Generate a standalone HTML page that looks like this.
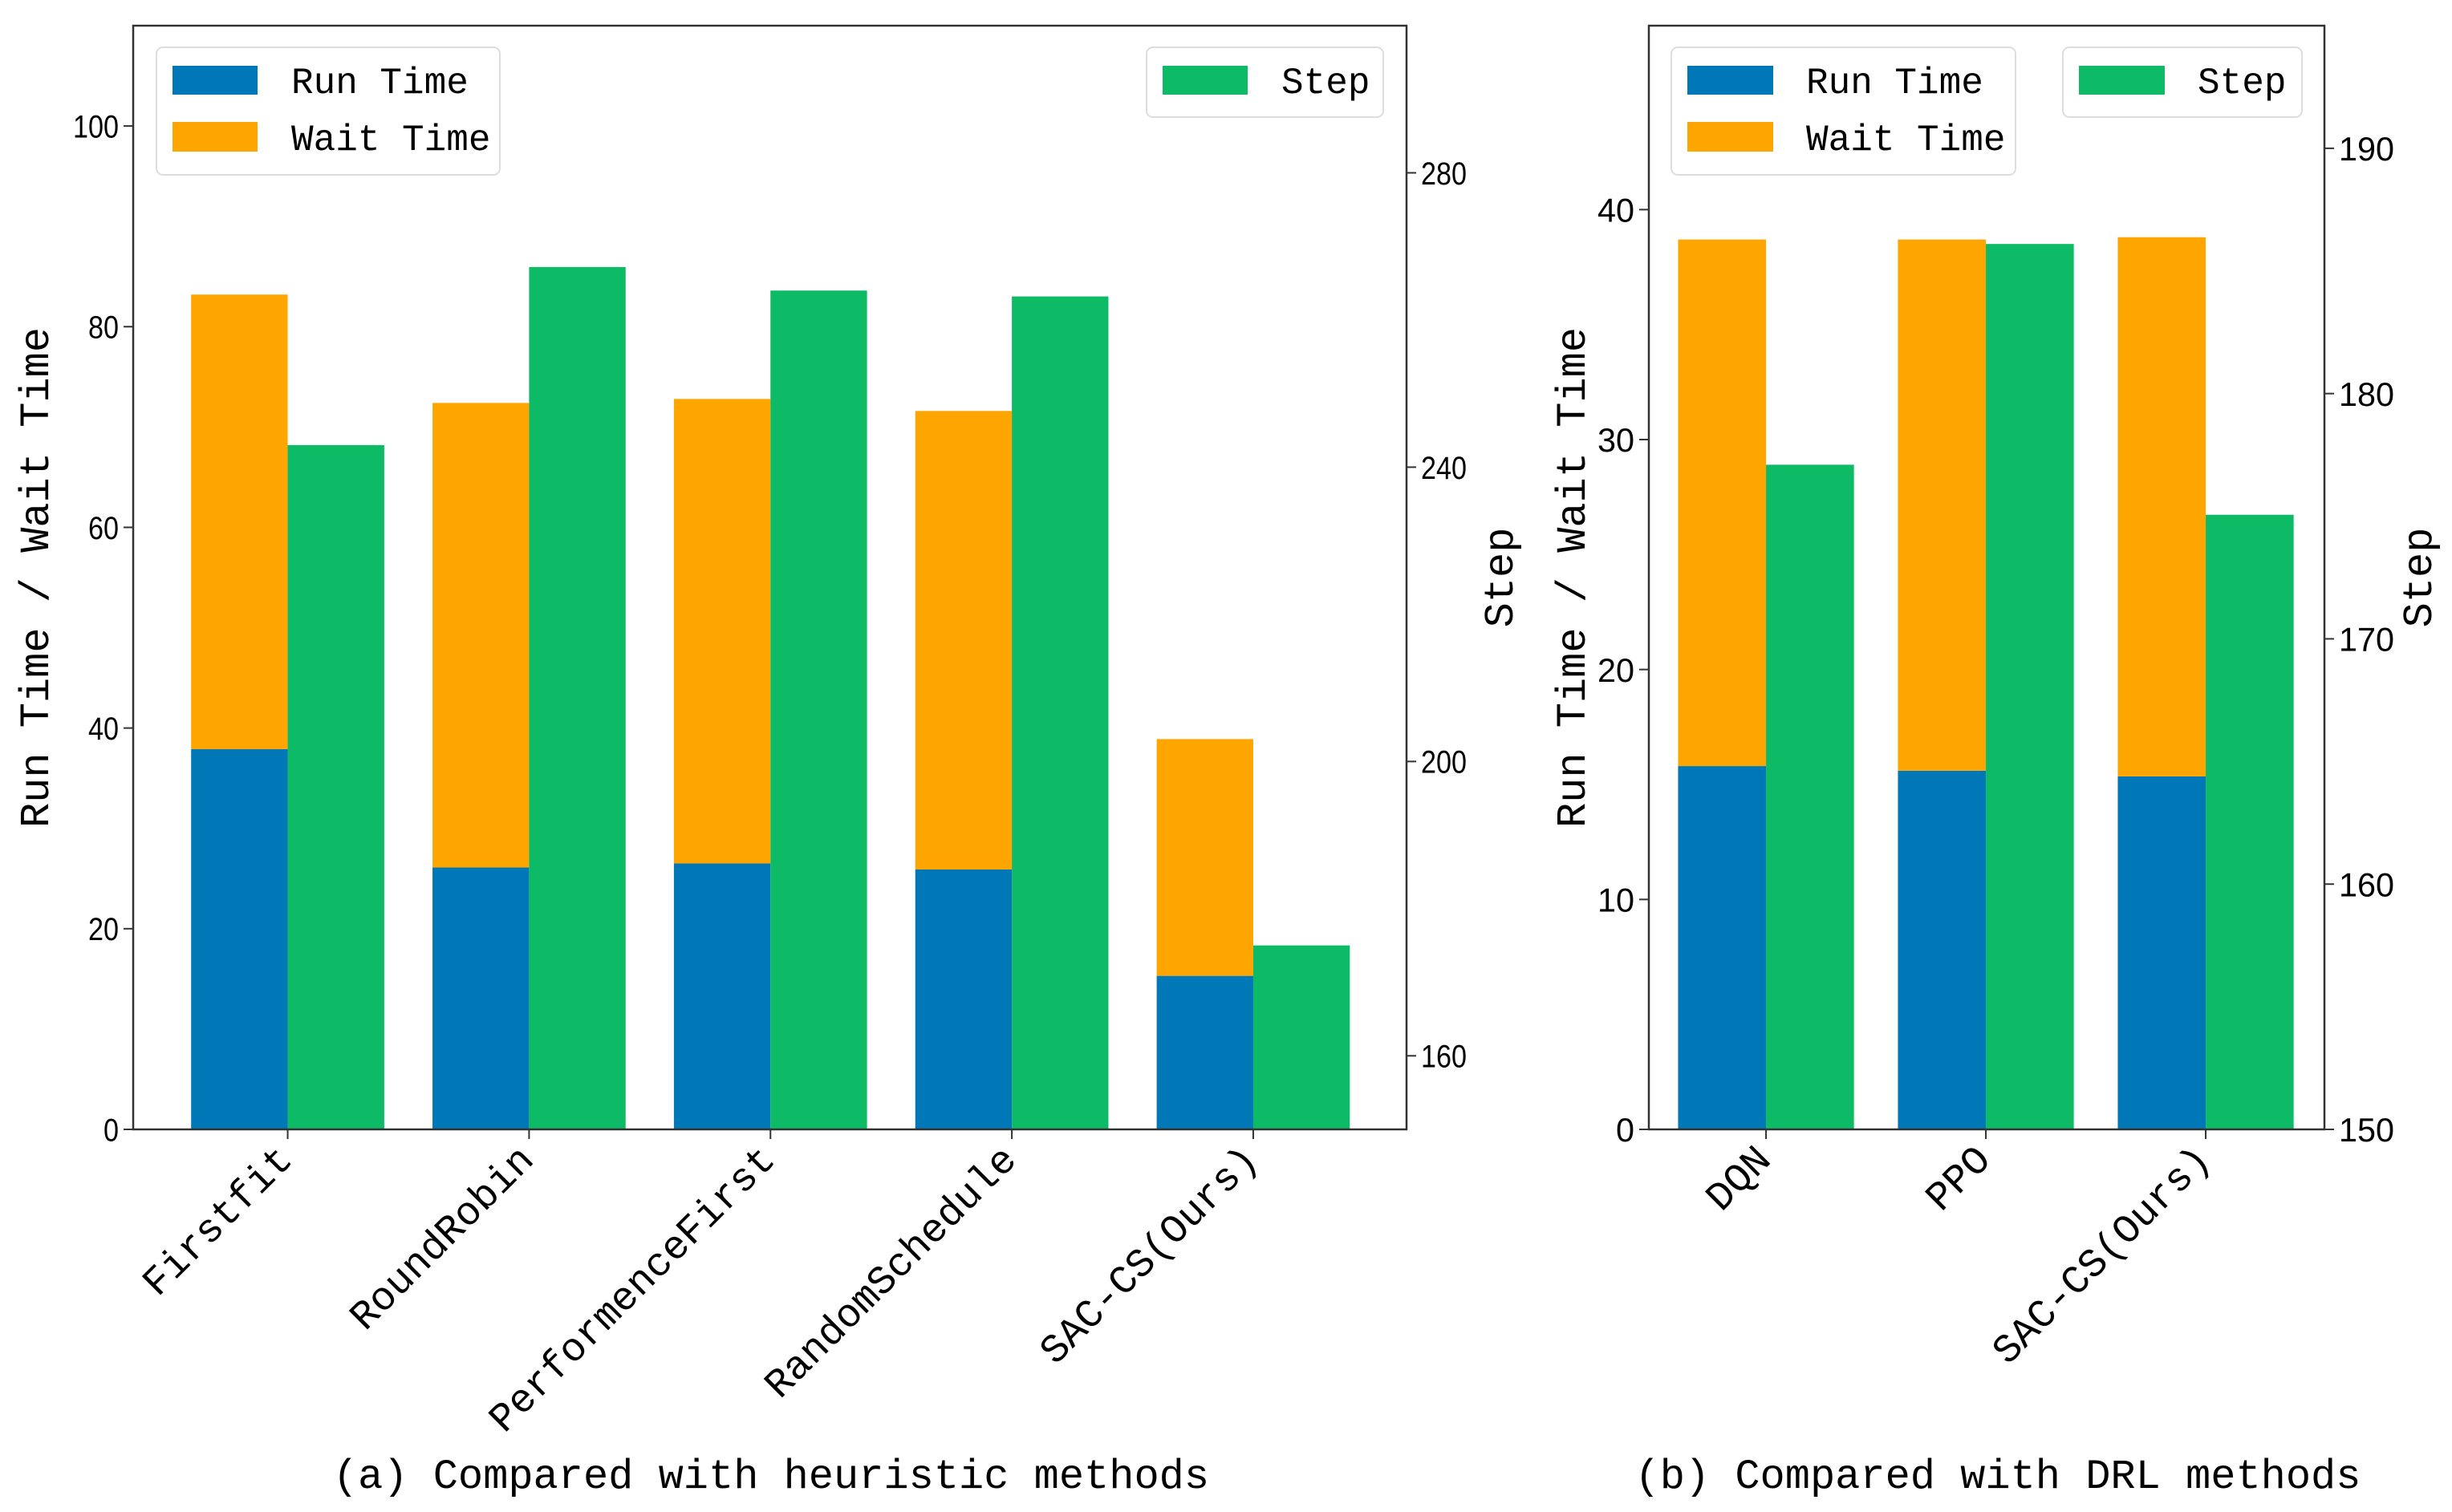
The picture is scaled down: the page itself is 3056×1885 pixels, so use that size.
<!DOCTYPE html>
<html><head><meta charset="utf-8"><style>
html,body{margin:0;padding:0;background:#fff}
svg{display:block}
.t{font-family:"Liberation Sans","Noto Sans CJK SC",sans-serif}
.m{font-family:"Liberation Mono","Noto Sans CJK SC",monospace}
</style></head><body>
<svg id="chart" width="3056" height="1885" viewBox="0 0 3056 1885" xmlns="http://www.w3.org/2000/svg"></svg>
<script>
const catsA = ["Firstfit","RoundRobin","PerformenceFirst","RandomSchedule","SAC-CS(Ours)"];
const runA = [37.9, 26.1, 26.5, 25.9, 15.3];
const totalA = [83.2, 72.4, 72.8, 71.6, 38.9];
const stepA = [243, 267.2, 264, 263.2, 175];
const leftTicksA = [0,20,40,60,80,100];
const rightTicksA = [160,200,240,280];

const catsB = ["DQN","PPO","SAC-CS(Ours)"];
const runB = [15.8, 15.6, 15.35];
const totalB = [38.7, 38.7, 38.8];
const stepB = [177.1, 186.1, 175.06];
const leftTicksB = [0,10,20,30,40];
const rightTicksB = [150,160,170,180,190];

const NS="http://www.w3.org/2000/svg";
const svg=document.getElementById('chart');
function mk(tag,attrs,parent,text){const e=document.createElementNS(NS,tag);for(const k in attrs)e.setAttribute(k,attrs[k]);if(text!==undefined)e.textContent=text;(parent||svg).appendChild(e);return e;}

function panel(cfg){
  const g=mk('g',{},svg);
  
  
  const n=cfg.cats.length;
  const xs=i=>cfg.L+(i-cfg.xmin)/(cfg.xmax-cfg.xmin)*(cfg.R-cfg.L);
  const spacing=xs(1)-xs(0);
  const yl=v=>cfg.B-(v-cfg.y0)/(cfg.y1-cfg.y0)*(cfg.B-cfg.T);
  const yr=v=>cfg.B-(v-cfg.r0)/(cfg.r1-cfg.r0)*(cfg.B-cfg.T);
  const w=0.4*spacing;
  for(let i=0;i<n;i++){
    const c=xs(i);
    let r=mk('rect',{x:c-w,y:yl(cfg.run[i]),width:w,height:cfg.B-yl(cfg.run[i]),fill:'#0077b6'},g);
    
    
    r=mk('rect',{x:c-w,y:yl(cfg.total[i]),width:w,height:yl(cfg.run[i])-yl(cfg.total[i]),fill:'#ffa500'},g);
    
    
    r=mk('rect',{x:c,y:yr(cfg.step[i]),width:w,height:cfg.B-yr(cfg.step[i]),fill:'#0dbb66'},g);
    
    
    mk('line',{x1:c,y1:cfg.B,x2:c,y2:cfg.B+12,stroke:'#333','stroke-width':2},g);
    const t=mk('text',{class:'m','font-size':cfg.xfs,'text-anchor':'end',transform:`translate(${c+8},${cfg.B+40}) rotate(-45)`},g,cfg.cats[i]);
    
    
  }
  const fr=mk('rect',{x:cfg.L,y:cfg.T,width:cfg.R-cfg.L,height:cfg.B-cfg.T,fill:'none',stroke:'#333','stroke-width':2.5},g);
  
  
  cfg.lt.forEach(v=>{const y=yl(v);
    mk('line',{x1:cfg.L-12,y1:y,x2:cfg.L,y2:y,stroke:'#333','stroke-width':2},g);
    const t=mk('text',{class:'t','font-size':cfg.tfs,'text-anchor':'end',x:cfg.L-18,y:y+cfg.tfs*0.36,'textLength':cfg.tw*String(v).length,lengthAdjust:'spacingAndGlyphs'},g,v);
    
    });
  cfg.rt.forEach(v=>{const y=yr(v);
    mk('line',{x1:cfg.R,y1:y,x2:cfg.R+12,y2:y,stroke:'#333','stroke-width':2},g);
    const t=mk('text',{class:'t','font-size':cfg.tfs,x:cfg.R+18,y:y+cfg.tfs*0.36,'textLength':cfg.tw*String(v).length,lengthAdjust:'spacingAndGlyphs'},g,v);
    
    });
  let t=mk('text',{class:'m','font-size':52,'text-anchor':'middle',transform:`translate(${cfg.ylx},${(cfg.T+cfg.B)/2}) rotate(-90)`},g,'Run Time / Wait Time');
  
  
  t=mk('text',{class:'m','font-size':52,'text-anchor':'middle',transform:`translate(${cfg.yrx},${(cfg.T+cfg.B)/2}) rotate(-90)`},g,'Step');
  
  
  t=mk('text',{class:'m','font-size':52,'text-anchor':'middle',x:cfg.capx,y:1855},g,cfg.caption);
  
  
  // legends
  const l1=mk('g',{},g);
  
  
  mk('rect',{x:cfg.lg1[0],y:59,width:cfg.lg1[1]-cfg.lg1[0],height:159,rx:8,fill:'#fff',stroke:'#ddd','stroke-width':2},l1);
  mk('rect',{x:cfg.lg1[0]+20,y:82,width:cfg.pw,height:36,fill:'#0077b6'},l1);
  mk('rect',{x:cfg.lg1[0]+20,y:152,width:cfg.pw,height:37,fill:'#ffa500'},l1);
  mk('text',{class:'m','font-size':46,x:cfg.lg1[0]+cfg.tx,y:116},l1,'Run Time');
  mk('text',{class:'m','font-size':46,x:cfg.lg1[0]+cfg.tx,y:187},l1,'Wait Time');
  const l2=mk('g',{},g);
  
  
  mk('rect',{x:cfg.lg2[0],y:59,width:cfg.lg2[1]-cfg.lg2[0],height:87,rx:8,fill:'#fff',stroke:'#ddd','stroke-width':2},l2);
  mk('rect',{x:cfg.lg2[0]+20,y:82,width:cfg.pw,height:36,fill:'#0dbb66'},l2);
  mk('text',{class:'m','font-size':46,x:cfg.lg2[0]+cfg.tx,y:116},l2,'Step');
}
panel({name:'panel-a-heuristic',cats:catsA,run:runA,total:totalA,step:stepA,lt:leftTicksA,rt:rightTicksA,
  L:166,R:1753,T:32,B:1408,xmin:-0.64,xmax:4.635,y0:0,y1:110,r0:150,r1:300,xfs:50,tfs:40,tw:19,
  ylx:60,yrx:1885,capx:961,caption:'(a) Compared with heuristic methods',lg1:[195,623],lg2:[1429,1724],pw:106,tx:168});
panel({name:'panel-b-drl',cats:catsB,run:runB,total:totalB,step:stepB,lt:leftTicksB,rt:rightTicksB,
  L:2055,R:2897,T:32,B:1408,xmin:-0.533,xmax:2.54,y0:0,y1:48,r0:150,r1:195,xfs:50,tfs:42,tw:23,
  ylx:1975,yrx:3030,capx:2490,caption:'(b) Compared with DRL methods',lg1:[2083,2512],lg2:[2571,2869],pw:107,tx:168});
</script>
</body></html>
